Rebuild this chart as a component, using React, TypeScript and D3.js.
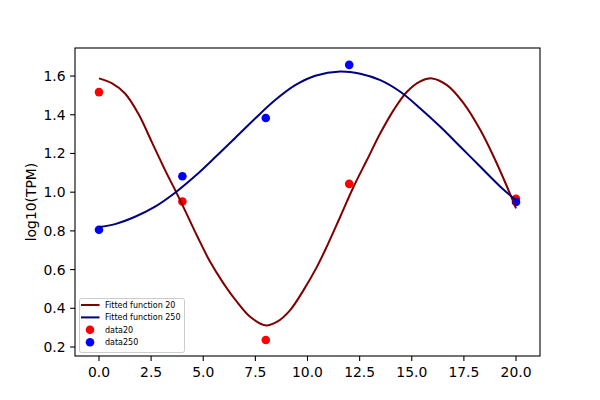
import * as d3 from 'd3';
import React from "react";

const WIDTH = 600;
const HEIGHT = 400;
const LEFT = 75;
const RIGHT = 540;
const TOP = 48;
const BOTTOM = 356;

// sample times and measured values
const timepoints = [0, 4, 8, 12, 20];
const data20 = [1.517, 0.952, 0.236, 1.043, 0.966];
const data250 = [0.806, 1.082, 1.383, 1.658, 0.949];

// fitted curves
const fitX20 = [0, 0.61, 1.25, 1.89, 2.53, 3.17, 3.73, 4.13, 4.7, 5.33, 5.97, 6.61, 7.25, 7.97, 8.53, 9.17, 9.81,
    10.45, 10.93, 11.57, 12.21, 12.85, 13.49, 14.13, 14.77, 15.41, 15.97, 16.69, 17.49, 18.29, 18.93, 19.57, 20];
const fitY20 = [1.588, 1.563, 1.51, 1.405, 1.26, 1.114, 0.994, 0.905, 0.775, 0.64, 0.529, 0.434, 0.356, 0.312, 0.33,
    0.391, 0.494, 0.614, 0.72, 0.873, 1.028, 1.166, 1.304, 1.424, 1.519, 1.573, 1.588, 1.553, 1.459, 1.321, 1.183,
    1.028, 0.916];
const fitX250 = [0, 0.77, 1.73, 2.69, 3.65, 4.61, 5.57, 6.53, 7.49, 8.45, 9.41, 10.37, 11.57, 12.53, 13.49,
    14.45, 15.41, 16.37, 17.33, 18.29, 19.25, 20];
const fitY250 = [0.82, 0.835, 0.873, 0.925, 0.997, 1.083, 1.18, 1.28, 1.381, 1.476, 1.553, 1.602, 1.624, 1.612, 1.579,
    1.519, 1.433, 1.338, 1.235, 1.131, 1.028, 0.958];

const xTicks = [0, 2.5, 5, 7.5, 10, 12.5, 15, 17.5, 20];
const yTicks = [0.2, 0.4, 0.6, 0.8, 1.0, 1.2, 1.4, 1.6];

const FONT = "DejaVu Sans, sans-serif";

export default function App() {
    const x = d3.scaleLinear().domain([-1.15, 21.15]).range([LEFT, RIGHT]);
    const y = d3.scaleLinear().domain([0.1535, 1.745]).range([BOTTOM, TOP]);

    const line = d3.line<[number, number]>()
        .x(d => x(d[0]))
        .y(d => y(d[1]))
        .curve(d3.curveCatmullRom);

    const pts20 = fitX20.map((v, i) => [v, fitY20[i]] as [number, number]);
    const pts250 = fitX250.map((v, i) => [v, fitY250[i]] as [number, number]);
    const fmt = d3.format(".1f");

    const legendItems = [
        {label: "Fitted function 20", kind: "line", color: "#800000"},
        {label: "Fitted function 250", kind: "line", color: "#000080"},
        {label: "data20", kind: "dot", color: "#ff0000"},
        {label: "data250", kind: "dot", color: "#0000ff"},
    ];

    return (
        <svg width={WIDTH} height={HEIGHT} style={{position: "absolute", left: 0, top: 0, background: "#fff"}}
             fontFamily={FONT}>
            <rect x={0} y={0} width={WIDTH} height={HEIGHT} fill="#fff"/>

            {/* scatter first, lines drawn over it */}
            {timepoints.map((t, i) => (
                <circle key={"r" + i} cx={x(t)} cy={y(data20[i])} r={4.3} fill="#ff0000"/>
            ))}
            {timepoints.map((t, i) => (
                <circle key={"b" + i} cx={x(t)} cy={y(data250[i])} r={4.3} fill="#0000ff"/>
            ))}
            <path d={line(pts20) || ""} fill="none" stroke="#800000" strokeWidth={2}/>
            <path d={line(pts250) || ""} fill="none" stroke="#000080" strokeWidth={2}/>

            {/* axes frame */}
            <rect x={LEFT} y={TOP} width={RIGHT - LEFT} height={BOTTOM - TOP} fill="none" stroke="#000"
                  strokeWidth={1.1}/>

            {xTicks.map(t => (
                <g key={"x" + t} transform={`translate(${x(t)},${BOTTOM})`}>
                    <line y2={4.9} stroke="#000" strokeWidth={1.1}/>
                    <text y={20.5} textAnchor="middle" fontSize={13.9} fill="#000">{fmt(t)}</text>
                </g>
            ))}
            {yTicks.map(t => (
                <g key={"y" + t} transform={`translate(${LEFT},${y(t)})`}>
                    <line x2={-4.9} stroke="#000" strokeWidth={1.1}/>
                    <text x={-9.5} dy="0.36em" textAnchor="end" fontSize={13.9} fill="#000">{fmt(t)}</text>
                </g>
            ))}
            <text transform={`translate(36,${(TOP + BOTTOM) / 2}) rotate(-90)`} textAnchor="middle"
                  fontSize={13.9} fill="#000">log10(TPM)</text>

            {/* legend */}
            <rect x={79.5} y={298.5} width={105} height={54} rx={2} fill="#fff" fillOpacity={0.8}
                  stroke="#cccccc" strokeWidth={1}/>
            {legendItems.map((d, i) => {
                const cy = 305 + i * 12.4;
                return (
                    <g key={d.label}>
                        {d.kind === "line"
                            ? <line x1={81} x2={99.5} y1={cy} y2={cy} stroke={d.color} strokeWidth={2}/>
                            : <circle cx={90} cy={cy} r={4.3} fill={d.color}/>}
                        <text x={105} y={cy} dy="0.35em" fontSize={8} fill="#000">{d.label}</text>
                    </g>
                );
            })}
        </svg>
    );
}
